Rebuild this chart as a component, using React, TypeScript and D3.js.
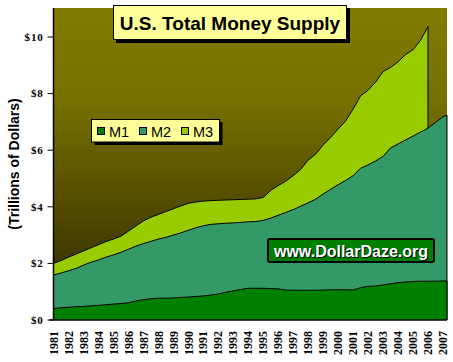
import { useEffect, useRef } from 'react'
import * as d3 from 'd3'

// half-year sample points (trillions of dollars)
const dates = [
  1981.0, 1981.5, 1982.0, 1982.5, 1983.0, 1983.5, 1984.0, 1984.5, 1985.0, 1985.5,
  1986.0, 1986.5, 1987.0, 1987.5, 1988.0, 1988.5, 1989.0, 1989.5, 1990.0, 1990.5,
  1991.0, 1991.5, 1992.0, 1992.5, 1993.0, 1993.5, 1994.0, 1994.5, 1995.0, 1995.5,
  1996.0, 1996.5, 1997.0, 1997.5, 1998.0, 1998.5, 1999.0, 1999.5, 2000.0, 2000.5,
  2001.0, 2001.5, 2002.0, 2002.5, 2003.0, 2003.5, 2004.0, 2004.5, 2005.0, 2005.5,
  2006.0, 2006.5, 2007.0, 2007.27,
]
const m1 = [
  0.41, 0.43, 0.45, 0.47, 0.48, 0.50, 0.52, 0.54, 0.56, 0.58,
  0.61, 0.67, 0.72, 0.75, 0.77, 0.77, 0.78, 0.80, 0.81, 0.83,
  0.85, 0.88, 0.92, 0.98, 1.03, 1.08, 1.12, 1.12, 1.12, 1.11,
  1.10, 1.06, 1.05, 1.05, 1.05, 1.05, 1.06, 1.07, 1.07, 1.07,
  1.06, 1.14, 1.19, 1.20, 1.24, 1.28, 1.32, 1.34, 1.36, 1.37,
  1.37, 1.37, 1.38, 1.38,
]
const m2 = [
  1.59, 1.66, 1.74, 1.82, 1.94, 2.04, 2.12, 2.22, 2.30, 2.39,
  2.50, 2.61, 2.70, 2.78, 2.86, 2.92, 3.00, 3.08, 3.17, 3.26,
  3.33, 3.38, 3.40, 3.42, 3.43, 3.45, 3.47, 3.48, 3.52, 3.60,
  3.70, 3.80, 3.90, 4.02, 4.14, 4.27, 4.45, 4.62, 4.78, 4.93,
  5.10, 5.36, 5.48, 5.62, 5.78, 6.08, 6.22, 6.36, 6.50, 6.64,
  6.78, 6.98, 7.18, 7.24,
]
// M3 reporting stops in early 2006
const m3 = [
  2.00, 2.10, 2.22, 2.33, 2.44, 2.55, 2.66, 2.77, 2.86, 2.96,
  3.14, 3.32, 3.50, 3.63, 3.73, 3.83, 3.93, 4.03, 4.12, 4.17,
  4.20, 4.22, 4.23, 4.24, 4.25, 4.26, 4.27, 4.28, 4.33, 4.58,
  4.75, 4.90, 5.10, 5.32, 5.65, 5.86, 6.18, 6.45, 6.75, 7.03,
  7.45, 7.92, 8.12, 8.40, 8.78, 8.92, 9.12, 9.38, 9.55, 9.88,
  10.37,
]

const yTicks = [0, 2, 4, 6, 8, 10]
const yearLabels = d3.range(1981, 2008)
const seriesNames = ['M1', 'M2', 'M3']
const seriesColors = ['#008000', '#339966', '#99cc00']

const W = 453
const H = 362
const PL = 53.5
const PR = 447
const PT = 8
const PB = 320

export default function App() {
  const svgRef = useRef<SVGSVGElement>(null)

  useEffect(() => {
    const svg = d3.select(svgRef.current)
    svg.selectAll('*').remove()

    const x = d3.scaleLinear().domain([1981, 2007.27]).range([PL, PR])
    const y = d3.scaleLinear().domain([0, 11]).range([PB, PT + 0.7])

    // ── 배경 그라디언트 ──
    const defs = svg.append('defs')
    const grad = defs.append('linearGradient').attr('id', 'bg')
      .attr('x1', 0).attr('x2', 0).attr('y1', 0).attr('y2', 1)
    grad.append('stop').attr('offset', '0%').attr('stop-color', '#817b00')
    grad.append('stop').attr('offset', '30%').attr('stop-color', '#767000')
    grad.append('stop').attr('offset', '100%').attr('stop-color', '#2a2400')

    svg.append('rect')
      .attr('x', PL).attr('y', PT).attr('width', PR - PL).attr('height', PB - PT)
      .attr('fill', 'url(#bg)')

    const pts = (vals: number[]) => vals.map((v, i) => ({ x: dates[i], y: v }))
    const area = d3.area<{ x: number; y: number }>()
      .x((d) => x(d.x)).y0(y(0)).y1((d) => y(d.y))
    const line = d3.line<{ x: number; y: number }>()
      .x((d) => x(d.x)).y((d) => y(d.y))

    // ── 영역: M3 → M2 → M1 ──
    ;[m3, m2, m1].forEach((vals, k) => {
      const color = seriesColors[2 - k]
      const p = pts(vals)
      svg.append('path').datum(p).attr('d', area).attr('fill', color)
      svg.append('path').datum(p).attr('d', line)
        .attr('fill', 'none').attr('stroke', '#000').attr('stroke-width', 1)
      const last = p[p.length - 1]
      svg.append('line')
        .attr('x1', x(last.x)).attr('x2', x(last.x))
        .attr('y1', y(last.y)).attr('y2', y(0))
        .attr('stroke', '#000').attr('stroke-width', 1)
    })

    // ── 축 ──
    svg.append('line').attr('x1', PL).attr('x2', PL).attr('y1', PT).attr('y2', PB)
      .attr('stroke', '#000').attr('stroke-width', 1.5)
    svg.append('line').attr('x1', PL - 4).attr('x2', PR).attr('y1', PB).attr('y2', PB)
      .attr('stroke', '#000').attr('stroke-width', 1.5)

    yTicks.forEach((t) => {
      svg.append('line').attr('x1', PL - 6).attr('x2', PL).attr('y1', y(t)).attr('y2', y(t))
        .attr('stroke', '#000').attr('stroke-width', 1)
      svg.append('text')
        .attr('x', PL - 10).attr('y', y(t)).attr('dy', '0.35em')
        .attr('text-anchor', 'end')
        .attr('font-family', '"Liberation Serif", serif').attr('font-weight', 'bold')
        .attr('font-size', 11).attr('letter-spacing', 0.8)
        .text(`$${t}`)
    })

    yearLabels.forEach((yr) => {
      svg.append('text')
        .attr('transform', `translate(${x(yr)},${PB + 11}) rotate(-90)`)
        .attr('dy', '0.35em').attr('text-anchor', 'end')
        .attr('font-family', '"Liberation Serif", serif').attr('font-weight', 'bold')
        .attr('font-size', 12)
        .text(yr)
    })

    svg.append('text')
      .attr('transform', `translate(19,${(PT + PB) / 2}) rotate(-90)`)
      .attr('text-anchor', 'middle')
      .attr('font-family', '"Liberation Sans", Arial, sans-serif').attr('font-weight', 'bold')
      .attr('font-size', 14)
      .text('(Trillions of Dollars)')

    // ── 제목 ──
    svg.append('rect').attr('x', 116).attr('y', 8).attr('width', 234).attr('height', 35).attr('fill', '#000')
    svg.append('rect').attr('x', 113.5).attr('y', 5.5).attr('width', 233).attr('height', 34)
      .attr('fill', '#ffff99').attr('stroke', '#000').attr('stroke-width', 1)
    svg.append('text')
      .attr('x', 230).attr('y', 30)
      .attr('text-anchor', 'middle')
      .attr('font-family', '"Liberation Sans", Arial, sans-serif').attr('font-weight', 'bold')
      .attr('font-size', 19)
      .text('U.S. Total Money Supply')

    // ── 범례 ──
    const leg = svg.append('g')
    leg.append('rect').attr('x', 94.5).attr('y', 122).attr('width', 128).attr('height', 23).attr('fill', '#000')
    leg.append('rect').attr('x', 91.5).attr('y', 119.5).attr('width', 128).attr('height', 22.5)
      .attr('fill', '#ffff99').attr('stroke', '#000').attr('stroke-width', 1)
    seriesNames.forEach((name, i) => {
      const lx = 97 + i * 42
      leg.append('rect').attr('x', lx + 0.5).attr('y', 127.5).attr('width', 7).attr('height', 7)
        .attr('fill', seriesColors[i]).attr('stroke', '#000').attr('stroke-width', 1)
      leg.append('text')
        .attr('x', lx + 12).attr('y', 136.5)
        .attr('font-family', '"Liberation Sans", Arial, sans-serif')
        .attr('font-size', 14.5)
        .text(name)
    })

    // ── 웹사이트 ──
    svg.append('rect').attr('x', 268).attr('y', 239).attr('width', 166).attr('height', 23)
      .attr('rx', 2)
      .attr('fill', '#008000').attr('stroke', '#000').attr('stroke-width', 2)
    const site = (dx: number, dy: number, fill: string) =>
      svg.append('text')
        .attr('x', 351 + dx).attr('y', 256.5 + dy)
        .attr('text-anchor', 'middle')
        .attr('font-family', '"Liberation Sans", Arial, sans-serif').attr('font-weight', 'bold')
        .attr('font-size', 16).attr('fill', fill)
        .text('www.DollarDaze.org')
    site(1, 1, '#000')
    site(0, 0, '#fff')
  }, [])

  return (
    <svg ref={svgRef} width={W} height={H}
      style={{ position: 'absolute', left: 0, top: 0, background: '#fff' }} />
  )
}
